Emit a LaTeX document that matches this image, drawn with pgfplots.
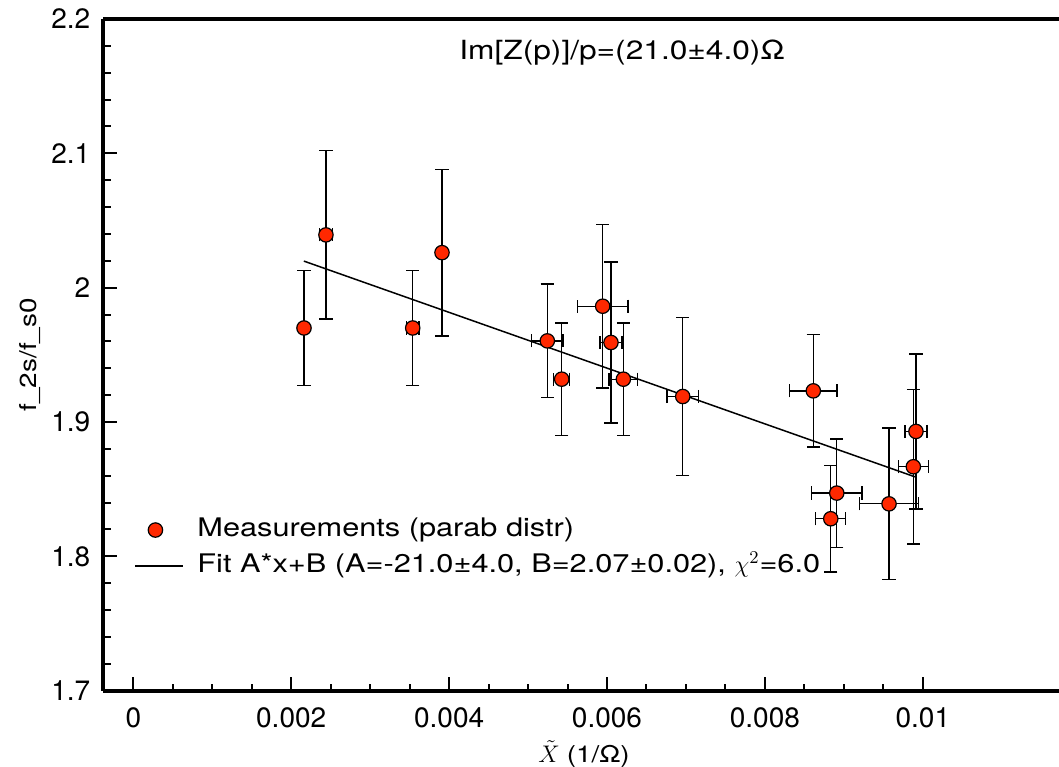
\documentclass[border=0pt]{standalone}
\usepackage{fontspec}
\setmainfont{TeX Gyre Heros}
\newfontfamily\widefont{TeX Gyre Heros}[FakeStretch=1.2]
\usepackage{pgfplots}
\usepackage{pgfplotstable}
\pgfplotsset{compat=1.18}
\definecolor{ptred}{RGB}{255,40,0}
\pgfplotstableread{
x y ex ey
0.002162 1.9700 0.00000 0.0426
0.002440 2.0393 0.00008 0.0627
0.003539 1.9700 0.00008 0.0428
0.003910 2.0261 0.00000 0.0621
0.005244 1.9604 0.00020 0.0424
0.005426 1.9319 0.00010 0.0418
0.005945 1.9862 0.00032 0.0608
0.006050 1.9592 0.00014 0.0600
0.006207 1.9319 0.00018 0.0418
0.006959 1.9190 0.00020 0.0588
0.008613 1.9232 0.00030 0.0417
0.008910 1.8471 0.00032 0.0403
0.008834 1.8280 0.00019 0.0396
0.009572 1.8391 0.00037 0.0564
0.009913 1.8930 0.00014 0.0577
0.009880 1.8667 0.00019 0.0574
}\meas
\begin{document}
\begin{tikzpicture}
\begin{axis}[name=ax, scale only axis, width=477.85pt, height=335.85pt,
  xmin=-0.00038, xmax=0.011725, ymin=1.7, ymax=2.2,
  axis x line=box, axis y line=left,
  axis line style={-, line width=2pt},
  xtick={0,0.002,0.004,0.006,0.008,0.01},
  ytick={1.7,1.8,1.9,2,2.1,2.2},
  minor x tick num=3, minor y tick num=4,
  xtick pos=lower, ytick pos=left,
  tick align=inside,
  major tick length=7pt, minor tick length=3.6pt,
  every tick/.style={black, line width=1pt},
  scaled x ticks=false,
  /pgf/number format/assume math mode=true,
  xticklabel style={/pgf/number format/fixed, /pgf/number format/precision=3, yshift=-5pt},
  yticklabel style={/pgf/number format/fixed, /pgf/number format/precision=1, xshift=-3pt},
  tick label style={font=\fontsize{14}{16}\selectfont},
  xlabel={$\tilde{X}$\hspace{3.5pt}{\widefont(1/Ω)}},
  ylabel={\widefont f\_2s/f\_s0},
  every axis x label/.style={at={(rel axis cs:0.503,0)}, anchor=center, yshift=-31.5pt, font=\fontsize{11.6}{14}\selectfont},
  every axis y label/.style={at={(rel axis cs:-0.0764,0.5)}, rotate=90, anchor=center, font=\fontsize{11.6}{14}\selectfont},
  legend cell align=left,
  legend style={draw=none, fill=none, at={(rel axis cs:0,0.2124)}, anchor=west, xshift=12.5pt,
    font=\widefont\fontsize{12.8}{15}\selectfont, row sep=3pt,
    nodes={inner sep=1.5pt, text height=9pt, text depth=3pt}},
  legend image code/.code={\path[draw=none] (0pt,0pt) -- (29.5pt,0pt); \draw[#1] (0cm,0cm) -- (24pt,0cm);},
]
\addplot[only marks, mark=*, mark size=3.6pt,
  mark options={fill=ptred, draw=black, line width=0.6pt},
  legend image code/.code={\path[draw=none] (0pt,0pt) -- (29.5pt,0pt); \draw[mark=*, mark size=3.6pt, mark options={fill=ptred, draw=black, line width=0.6pt}] plot coordinates {(10pt,0pt)};},
  error bars/.cd, x dir=both, x explicit, y dir=both, y explicit,
  error bar style={line width=0.65pt, black},
  error mark options={rotate=90, mark size=3.3pt, line width=0.65pt, black}]
  table[x=x, y=y, x error=ex, y error=ey] {\meas};
\addlegendentry{Measurements (parab distr)}
\addplot[black, line width=0.75pt] coordinates {(0.00216,2.0198) (0.00990,1.8592)};
\addlegendentry{Fit A*x+B (A=-21.0±4.0, B=2.07±0.02), $\chi^2$=6.0}
\node[font=\widefont\fontsize{13.2}{15}\selectfont] at (axis cs:0.00619,2.1747) {Im[Z(p)]/p=(21.0±4.0)Ω};
\end{axis}
\pgfresetboundingbox
\path[use as bounding box] ([xshift=-51.65pt,yshift=-37.65pt]ax.south west) rectangle ([yshift=9.5pt]ax.north east);
\end{tikzpicture}
\end{document}
